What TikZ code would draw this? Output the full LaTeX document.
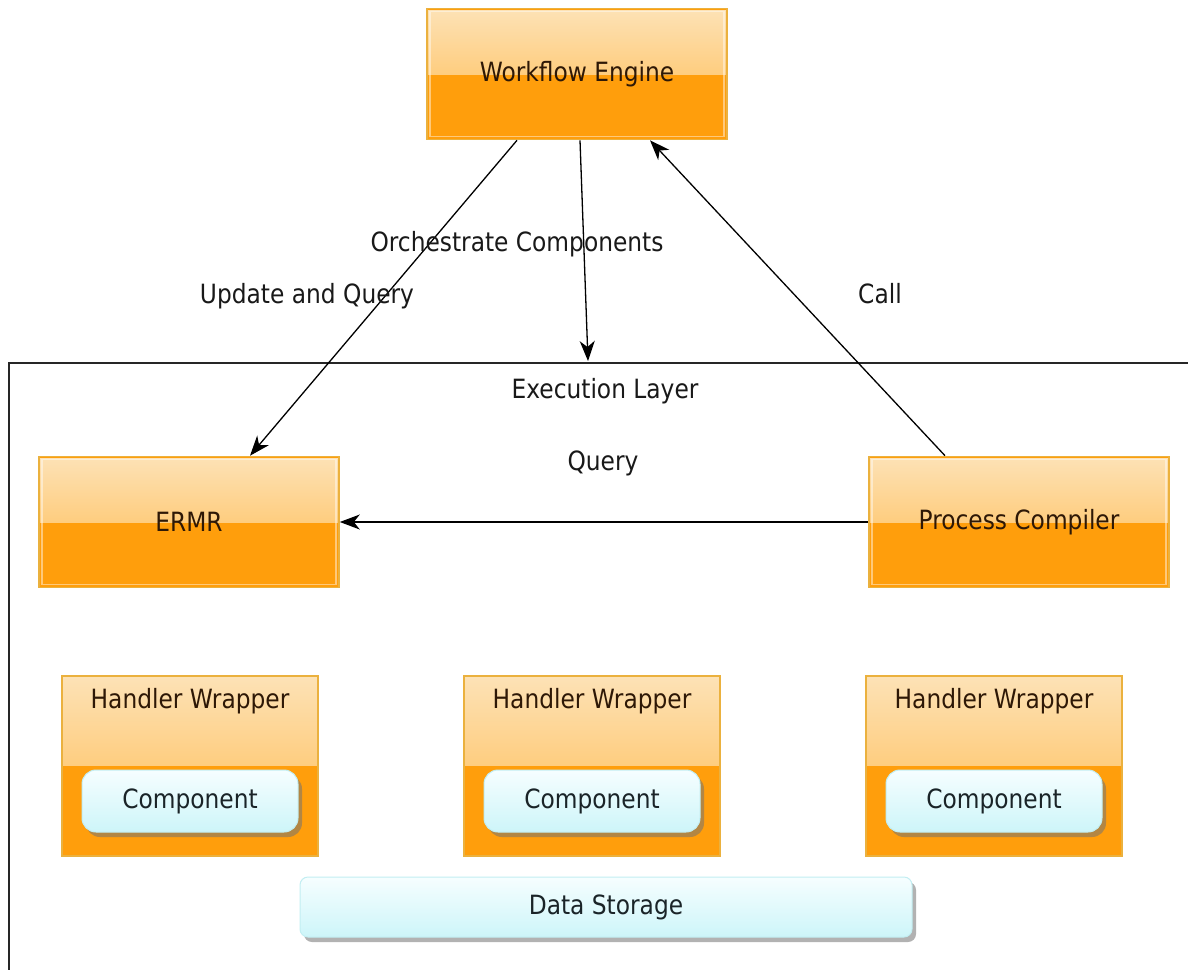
\documentclass[tikz,border=0pt]{standalone}
\usepackage{fontspec}
\setmainfont[FakeStretch=0.88]{DejaVu Sans}
\usetikzlibrary{shadows,arrows.meta}
\definecolor{orMain}{HTML}{FF9E0C}
\definecolor{orLight}{HTML}{FDE2B6}
\definecolor{orMid}{HTML}{FFB848}
\definecolor{orEdge}{HTML}{EBB13E}
\definecolor{cyLight}{HTML}{F6FEFF}
\definecolor{cyMain}{HTML}{CDF5F9}
\definecolor{cyEdge}{HTML}{C2EEF2}
\definecolor{txtBrown}{HTML}{2E1806}
\definecolor{txtDark}{HTML}{1A2428}
\tikzset{
  x=1pt, y=-1pt,
  txtfont/.style={font=\fontsize{26.5}{30}\selectfont},
  lbl/.style={txtfont, text=black!90, inner sep=0pt},
  orbox/.style={draw=orEdge, line width=1.6pt, fill=orMain, inner sep=0pt,
    minimum width=300pt, minimum height=131pt,
    txtfont, text=txtBrown,
    path picture={\shade[top color=orLight, bottom color=orMid]
      ([yshift=-2pt]path picture bounding box.north west) rectangle (path picture bounding box.east);
      \draw[white, opacity=0.45, line width=1.2pt]
      ([xshift=3pt,yshift=-3pt]path picture bounding box.north west) rectangle ([xshift=-3pt,yshift=3pt]path picture bounding box.south east);}},
  hwbox/.style={draw=orEdge, line width=1.6pt, fill=orMain, inner sep=0pt,
    minimum width=256pt, minimum height=180pt,
    path picture={\shade[top color=orLight, bottom color=orMid]
      (path picture bounding box.north west) rectangle ([yshift=91pt]path picture bounding box.south east);}},
  hwtitle/.style={txtfont, text=txtBrown, inner sep=0pt},
  cybox/.style={draw=cyEdge, line width=1pt, rounded corners=14pt,
    top color=cyLight, bottom color=cyMain, inner sep=0pt,
    txtfont, text=txtDark,
    drop shadow={shadow xshift=4pt, shadow yshift=-5pt, fill=black!55, opacity=0.55}},
  arr/.style={-{Stealth[length=20pt,width=15pt,inset=6pt]}, line width=1.3pt, black},
}
\begin{document}
\begin{tikzpicture}
\useasboundingbox (0,0) rectangle (1188,969);
\fill[white] (0,0) rectangle (1188,969);
% execution layer frame
\draw[line width=1.8pt, black!85] (1192,363) -- (9,363) -- (9,973);
\coordinate (execTop) at (588,361);
\node[lbl] (execLbl) at (605,391) {Execution Layer};

% top-level boxes
\node[orbox] (we) at (577,74) {Workflow Engine};
\node[orbox] (ermr) at (189,522) {ERMR};
\node[orbox] (pc) at (1019,522) {Process Compiler};

% handler wrappers
\foreach \i/\cx in {1/190, 2/592, 3/994}{
  \node[hwbox] (hw\i) at (\cx,766) {};
  \node[hwtitle] (hwt\i) at (\cx,701) {Handler Wrapper};
  \node[cybox, minimum width=216pt, minimum height=62pt] (comp\i) at (\cx,801) {Component};
}

% data storage
\node[cybox, rounded corners=8pt, minimum width=612pt, minimum height=60pt] (ds) at (606,907) {Data Storage};

% connectors
\draw[arr] ([xshift=-60pt]we.south) -- ([xshift=61pt]ermr.north);
\draw[arr] ([xshift=3pt]we.south) -- (execTop);
\draw[arr] ([xshift=-74pt]pc.north) -- ([xshift=73pt]we.south);
\draw[arr] (pc.west) -- (ermr.east);

% labels
\node[lbl] (lOrch) at (517,244) {Orchestrate Components};
\node[lbl] (lUpd) at (307,296) {Update and Query};
\node[lbl] (lCall) at (880,294) {Call};
\node[lbl] (lQuery) at (603,463) {Query};
\end{tikzpicture}
\end{document}
